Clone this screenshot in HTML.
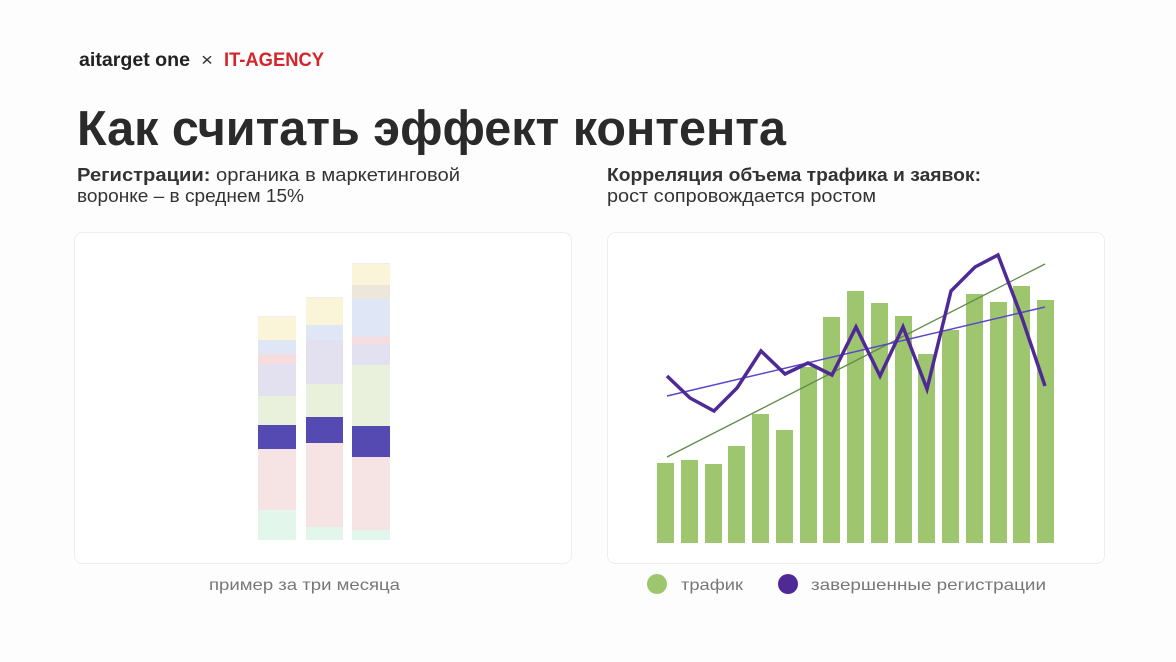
<!DOCTYPE html>
<html><head><meta charset="utf-8"><style>
html,body{margin:0;padding:0;background:#fdfdfd;}
svg{display:block;font-family:"Liberation Sans",sans-serif;}
</style></head><body>
<svg width="1176" height="662" viewBox="0 0 1176 662" xmlns="http://www.w3.org/2000/svg">
<rect width="1176" height="662" fill="#fdfdfd"/>
<!-- logo -->
<text x="79" y="66" font-size="19" font-weight="bold" fill="#222" textLength="111" lengthAdjust="spacingAndGlyphs">aitarget one</text>
<text x="201" y="66" font-size="18" fill="#333" textLength="12" lengthAdjust="spacingAndGlyphs">×</text>
<text x="224" y="66" font-size="19" font-weight="bold" fill="#d4262a" textLength="100" lengthAdjust="spacingAndGlyphs">IT-AGENCY</text>
<!-- title -->
<text x="77" y="145" font-size="49" font-weight="bold" fill="#2a2a2a" textLength="709" lengthAdjust="spacingAndGlyphs">Как считать эффект контента</text>
<!-- subtitles -->
<text x="77" y="181" font-size="18" fill="#333" textLength="383" lengthAdjust="spacingAndGlyphs"><tspan font-weight="bold">Регистрации:</tspan> органика в маркетинговой</text>
<text x="77" y="202" font-size="18" fill="#333" textLength="227" lengthAdjust="spacingAndGlyphs">воронке – в среднем 15%</text>
<text x="607" y="181" font-size="18" font-weight="bold" fill="#333" textLength="374" lengthAdjust="spacingAndGlyphs">Корреляция объема трафика и заявок:</text>
<text x="607" y="202" font-size="18" fill="#333" textLength="269" lengthAdjust="spacingAndGlyphs">рост сопровождается ростом</text>
<!-- cards -->
<rect x="74.5" y="232.5" width="497" height="331" rx="8" fill="#fff" stroke="#eee"/>
<rect x="607.5" y="232.5" width="497" height="331" rx="8" fill="#fff" stroke="#eee"/>
<!-- left stacked bars -->
<g>
<rect x="258" y="316" width="38" height="2" fill="#eee"/>
<rect x="258" y="317" width="38" height="23" fill="#faf4d9"/>
<rect x="258" y="340" width="38" height="14" fill="#dfe6f6"/>
<rect x="258" y="354" width="38" height="10" fill="#f6dcdc"/>
<rect x="258" y="364" width="38" height="32" fill="#e3e1ef"/>
<rect x="258" y="396" width="38" height="29" fill="#e9f0dc"/>
<rect x="258" y="425" width="38" height="24" fill="#554ab1"/>
<rect x="258" y="449" width="38" height="61" fill="#f5e4e3"/>
<rect x="258" y="510" width="38" height="30" fill="#e3f6ec"/>

<rect x="306" y="297" width="37" height="2" fill="#eee"/>
<rect x="306" y="298" width="37" height="27" fill="#faf4d9"/>
<rect x="306" y="325" width="37" height="15" fill="#dfe6f6"/>
<rect x="306" y="340" width="37" height="44" fill="#e3e1ef"/>
<rect x="306" y="384" width="37" height="33" fill="#e9f0dc"/>
<rect x="306" y="417" width="37" height="26" fill="#554ab1"/>
<rect x="306" y="443" width="37" height="84" fill="#f5e4e3"/>
<rect x="306" y="527" width="37" height="13" fill="#e3f6ec"/>

<rect x="352" y="263" width="38" height="2" fill="#eee"/>
<rect x="352" y="264" width="38" height="21" fill="#faf4d9"/>
<rect x="352" y="285" width="38" height="14" fill="#ede6da"/>
<rect x="352" y="299" width="38" height="38" fill="#dfe6f6"/>
<rect x="352" y="337" width="38" height="7" fill="#f6dcdc"/>
<rect x="352" y="344" width="38" height="21" fill="#e3e1ef"/>
<rect x="352" y="365" width="38" height="61" fill="#e9f0dc"/>
<rect x="352" y="426" width="38" height="31" fill="#554ab1"/>
<rect x="352" y="457" width="38" height="73" fill="#f5e4e3"/>
<rect x="352" y="530" width="38" height="10" fill="#e3f6ec"/>
</g>
<!-- right chart bars -->
<g fill="#9dc66f">
<rect x="657" y="463" width="17" height="80"/>
<rect x="681" y="460" width="17" height="83"/>
<rect x="705" y="464" width="17" height="79"/>
<rect x="728" y="446" width="17" height="97"/>
<rect x="752" y="414" width="17" height="129"/>
<rect x="776" y="430" width="17" height="113"/>
<rect x="800" y="367" width="17" height="176"/>
<rect x="823" y="317" width="17" height="226"/>
<rect x="847" y="291" width="17" height="252"/>
<rect x="871" y="303" width="17" height="240"/>
<rect x="895" y="316" width="17" height="227"/>
<rect x="918" y="354" width="17" height="189"/>
<rect x="942" y="330" width="17" height="213"/>
<rect x="966" y="294" width="17" height="249"/>
<rect x="990" y="302" width="17" height="241"/>
<rect x="1013" y="286" width="17" height="257"/>
<rect x="1037" y="300" width="17" height="243"/>
</g>
<line x1="667" y1="457" x2="1045" y2="264" stroke="#5e8a4a" stroke-width="1.3"/>
<line x1="667" y1="396" x2="1045" y2="307" stroke="#5a46c8" stroke-width="1.5"/>
<polyline fill="none" stroke="#4f2a96" stroke-width="3.5" stroke-linejoin="miter" points="667,376 690,398 714,411 737,388 761,351 785,374 808,363 832,375 856,327 880,376 903,327 927,389 951,291 975,267 998,255 1022,318 1045,386"/>
<!-- captions -->
<text x="209" y="590" font-size="16" fill="#777" textLength="191" lengthAdjust="spacingAndGlyphs">пример за три месяца</text>
<circle cx="657" cy="584" r="10" fill="#9dc66f"/>
<text x="681" y="590" font-size="16" fill="#777" textLength="62" lengthAdjust="spacingAndGlyphs">трафик</text>
<circle cx="788" cy="584" r="10" fill="#4f2a96"/>
<text x="811" y="590" font-size="16" fill="#777" textLength="235" lengthAdjust="spacingAndGlyphs">завершенные регистрации</text>
</svg>
</body></html>
